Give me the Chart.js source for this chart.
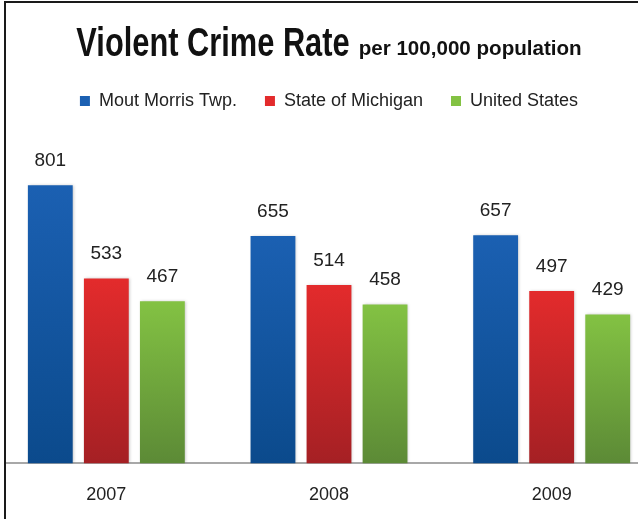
<!DOCTYPE html>
<html>
<head>
<meta charset="utf-8">
<script src="https://cdn.jsdelivr.net/npm/chart.js@4.4.1/dist/chart.umd.min.js"></script>
<style>
  html, body { margin: 0; padding: 0; background: #fff; }
  #wrap { position: relative; width: 638px; height: 519px; overflow: hidden; }
  #frame { position: absolute; left: 0; top: 1px; width: 700px; height: 600px;
           border-left: 4px solid #fff; pointer-events: none; }
  #frame div { width: 100%; height: 100%; border-left: 2px solid #1a1a1a; border-top: 2px solid #1a1a1a; }
  #myChart { position: absolute; left: -5px; top: 0; }
</style>
</head>
<body>
<div id="wrap">
  <canvas id="myChart" width="668" height="542"></canvas>
  <div id="frame"><div></div></div>
</div>
<script>
  // Datos del gráfico
  var years = ['2007', '2008', '2009'];
  var mountMorris = [801, 655, 657];
  var michigan = [533, 514, 497];
  var unitedStates = [467, 458, 429];

  var seriesNames = ['Mout Morris Twp.', 'State of Michigan', 'United States'];
  var topColors = ['#1b60b2', '#e32b2c', '#83c243'];
  var bottomColors = ['#0b4a8c', '#a52024', '#5c8a36'];

  var FONT = '"Liberation Sans", Arial, sans-serif';

  // degradado vertical de cada barra, de su tope a la base
  function barGradient(i) {
    return function (c) {
      var chart = c.chart;
      var area = chart.chartArea;
      if (!area || c.raw === undefined) return topColors[i];
      var yTop = chart.scales.y.getPixelForValue(c.raw);
      var g = chart.ctx.createLinearGradient(0, yTop, 0, area.bottom);
      g.addColorStop(0, topColors[i]);
      g.addColorStop(1, bottomColors[i]);
      return g;
    };
  }

  // título con dos tamaños de letra (letra estrecha)
  var titlePlugin = {
    id: 'titulo',
    afterDraw: function (chart) {
      var ctx = chart.ctx;
      var big = 'Violent Crime Rate';
      var small = 'per 100,000 population';
      var sx = 0.77, sx2 = 0.98, gap = 9;
      ctx.save();
      ctx.fillStyle = '#111';
      ctx.textBaseline = 'alphabetic';
      ctx.font = 'bold 40px ' + FONT;
      var w1 = ctx.measureText(big).width * sx;
      ctx.font = 'bold 21px ' + FONT;
      var w2 = ctx.measureText(small).width * sx2;
      var x = chart.width / 2 - (w1 + gap + w2) / 2;

      ctx.save();
      ctx.translate(x, 56);
      ctx.scale(sx, 1);
      ctx.font = 'bold 40px ' + FONT;
      ctx.fillText(big, 0, 0);
      ctx.restore();

      ctx.translate(x + w1 + gap, 55);
      ctx.scale(sx2, 1);
      ctx.font = 'bold 21px ' + FONT;
      ctx.fillText(small, 0, 0);
      ctx.restore();
    }
  };

  // espacio extra bajo la leyenda
  var legendGap = {
    id: 'legendGap',
    beforeInit: function (chart) {
      var fit = chart.legend.fit;
      chart.legend.fit = function () {
        fit.call(this);
        this.height += 31;
      };
    }
  };

  // valores encima de las barras
  var valuePlugin = {
    id: 'valores',
    afterDatasetsDraw: function (chart) {
      var ctx = chart.ctx;
      ctx.save();
      ctx.font = '19px ' + FONT;
      ctx.fillStyle = '#222';
      ctx.textAlign = 'center';
      ctx.textBaseline = 'bottom';
      chart.data.datasets.forEach(function (ds, i) {
        chart.getDatasetMeta(i).data.forEach(function (bar, j) {
          ctx.fillText(String(ds.data[j]), bar.x, bar.y - 15);
        });
      });
      ctx.restore();
    }
  };

  // sombra suave de las barras
  var shadowPlugin = {
    id: 'sombra',
    beforeDatasetsDraw: function (chart) {
      chart.ctx.save();
      chart.ctx.shadowColor = 'rgba(0,0,0,0.25)';
      chart.ctx.shadowBlur = 3;
      chart.ctx.shadowOffsetX = 1;
    },
    afterDatasetsDraw: function (chart) {
      chart.ctx.restore();
    }
  };

  var data = {
    labels: years,
    datasets: [mountMorris, michigan, unitedStates].map(function (vals, i) {
      return {
        label: seriesNames[i],
        data: vals,
        backgroundColor: barGradient(i),
        borderWidth: 0,
        categoryPercentage: 0.755,
        barPercentage: 0.8
      };
    })
  };

  var options = {
    responsive: false,
    animation: false,
    layout: { padding: { top: 64, bottom: 15, left: 0, right: 0 } },
    plugins: {
      tooltip: { enabled: false },
      legend: {
        position: 'top',
        labels: {
          boxWidth: 10,
          boxHeight: 10,
          padding: 28,
          color: '#222',
          font: { family: FONT, size: 18 },
          generateLabels: function (chart) {
            return seriesNames.map(function (n, i) {
              return { text: n, fillStyle: topColors[i], strokeStyle: topColors[i],
                       lineWidth: 0, datasetIndex: i, fontColor: '#222' };
            });
          }
        }
      }
    },
    scales: {
      x: {
        grid: { display: false, drawTicks: false },
        border: { display: true, color: '#a8a8a8', width: 2 },
        ticks: { padding: 21, color: '#222', font: { family: FONT, size: 18 } }
      },
      y: {
        display: false,
        min: 0,
        max: 900
      }
    }
  };

  var ctx = document.getElementById('myChart').getContext('2d');
  var myChart = new Chart(ctx, {
    type: 'bar',
    data: data,
    options: options,
    plugins: [legendGap, shadowPlugin, valuePlugin, titlePlugin]
  });
</script>
</body>
</html>
